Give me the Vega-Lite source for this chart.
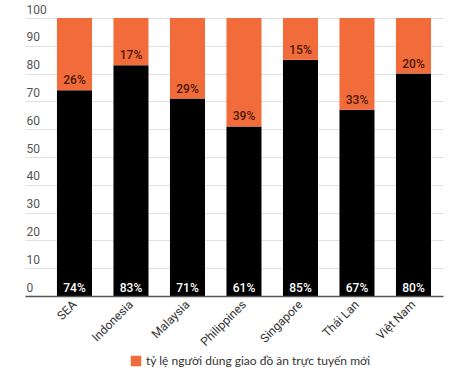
{
  "$schema": "https://vega.github.io/schema/vega-lite/v6.json",
  "autosize": "none",
  "width": 418,
  "height": 278,
  "padding": {"left": 25, "top": 18, "right": 31, "bottom": 78},
  "background": "#ffffff",
  "config": {
    "view": {"stroke": null},
    "font": "Roboto"
  },
  "data": {
    "values": [
      {"country": "SEA", "old": 74, "new": 26, "oldLbl": "74%", "newLbl": "26%"},
      {"country": "Indonesia", "old": 83, "new": 17, "oldLbl": "83%", "newLbl": "17%"},
      {"country": "Malaysia", "old": 71, "new": 29, "oldLbl": "71%", "newLbl": "29%"},
      {"country": "Philippines", "old": 61, "new": 39, "oldLbl": "61%", "newLbl": "39%"},
      {"country": "Singapore", "old": 85, "new": 15, "oldLbl": "85%", "newLbl": "15%"},
      {"country": "Thái Lan", "old": 67, "new": 33, "oldLbl": "67%", "newLbl": "33%"},
      {"country": "Việt Nam", "old": 80, "new": 20, "oldLbl": "80%", "newLbl": "20%"}
    ]
  },
  "encoding": {
    "x": {
      "field": "country",
      "type": "nominal",
      "sort": null,
      "scale": {"paddingInner": 0.38, "paddingOuter": 0.389, "align": 0.727},
      "axis": {
        "title": null,
        "labelAngle": -45,
        "labelAlign": "right",
        "labelBaseline": "middle",
        "labelFontSize": 12,
        "labelColor": "#333333",
        "labelPadding": 6,
        "ticks": false,
        "domainColor": "#555555",
        "domainWidth": 1.5,
        "zindex": 2
      }
    }
  },
  "layer": [
    {
      "transform": [{"fold": ["old", "new"], "as": ["type", "value"]}],
      "mark": {"type": "bar"},
      "encoding": {
        "y": {
          "field": "value",
          "type": "quantitative",
          "stack": "zero",
          "scale": {"domain": [0, 100], "nice": false},
          "axis": {
            "title": null,
            "tickCount": 11,
            "labelOverlap": false,
            "domain": false,
            "ticks": false,
            "grid": true,
            "gridColor": "#e0e0e0",
            "labelAlign": "left",
            "labelBaseline": "bottom",
            "labelPadding": -1,
            "labelOffset": -2,
            "labelFontSize": 12,
            "labelColor": "#555555"
          }
        },
        "color": {
          "field": "type",
          "type": "nominal",
          "scale": {"domain": ["old", "new"], "range": ["#000000", "#f26b3a"]},
          "legend": {
            "values": ["new"],
            "title": null,
            "orient": "none",
            "legendX": 105,
            "legendY": 337,
            "symbolType": "square",
            "symbolSize": 110,
            "symbolOpacity": 1,
            "labelExpr": "'tỷ lệ người dùng giao đồ ăn trực tuyến mới'",
            "labelLimit": 400,
            "labelFontSize": 12,
            "labelColor": "#333333",
            "labelFont": "Lato"
          }
        },
        "order": {"field": "type", "sort": "descending"}
      }
    },
    {
      "transform": [
        {"fold": ["old", "new"], "as": ["type", "value"]},
        {"stack": "value", "groupby": ["country"], "sort": [{"field": "type", "order": "descending"}], "as": ["v0", "v1"]},
        {"filter": "datum.type === 'old'"}
      ],
      "mark": {"type": "text", "color": "#ffffff", "fontSize": 12, "fontWeight": 500, "baseline": "bottom", "dy": -1},
      "encoding": {
        "y": {"field": "v0", "type": "quantitative"},
        "text": {"field": "oldLbl"}
      }
    },
    {
      "mark": {"type": "text", "color": "#4a1808", "fontSize": 12, "fontWeight": 500, "baseline": "bottom", "dy": -3},
      "encoding": {
        "y": {"field": "old", "type": "quantitative"},
        "text": {"field": "newLbl"}
      }
    }
  ]
}
